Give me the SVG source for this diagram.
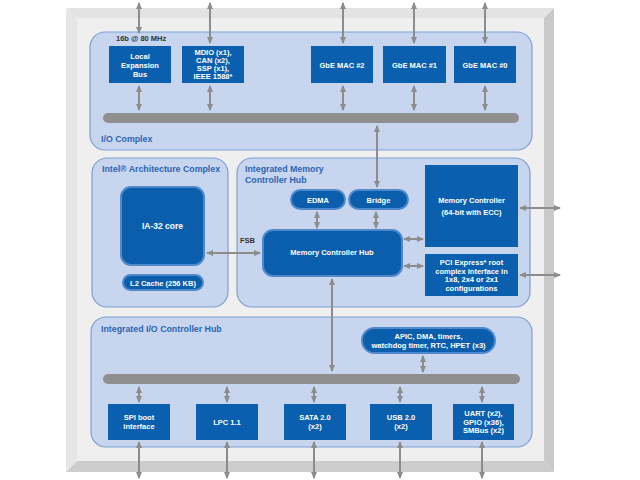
<svg xmlns="http://www.w3.org/2000/svg" width="640" height="480" viewBox="0 0 640 480">
<defs>
<marker id="ah" markerUnits="userSpaceOnUse" markerWidth="7" markerHeight="6" refX="6" refY="3" orient="auto-start-reverse">
<path d="M0,0 L7,3 L0,6 Z" fill="#8c8c8c"/>
</marker>
<style>
.cx{fill:#c8d5ee;stroke:#7f9fd3;stroke-width:1.2}
.blk{fill:#0a60ae}
.rb{fill:#0a5eab;stroke:#4f89cb;stroke-width:2}
.bus{stroke:#8f8f8f;stroke-width:10;stroke-linecap:round}
.ar{stroke:#8c8c8c;stroke-width:2;fill:none;marker-start:url(#ah);marker-end:url(#ah)}
.t{font-family:"Liberation Sans",Arial,sans-serif;font-weight:bold;font-size:7.5px;fill:#ffffff;text-anchor:middle}
.h{font-family:"Liberation Sans",Arial,sans-serif;font-weight:bold;font-size:8.8px;fill:#2c66b2}
.k{font-family:"Liberation Sans",Arial,sans-serif;font-weight:bold;font-size:7.5px;fill:#333333}
</style>
</defs>
<rect width="640" height="480" fill="#ffffff"/>
<g id="frame">
<polygon points="66,8 554,8 544,18 77,18" fill="#e3e3e3"/>
<polygon points="66,8 77,18 77,461 66,472" fill="#e6e6e6"/>
<polygon points="554,8 554,472 544,461 544,18" fill="#c9c9c9"/>
<polygon points="66,472 554,472 544,461 77,461" fill="#cdcdcd"/>
<rect x="77" y="18" width="467" height="443" fill="#efefef"/>
</g>
<g id="io-complex">
<rect class="cx" x="90" y="32" width="442" height="118" rx="15"/>
<text class="h" x="101" y="142">I/O Complex</text>
<text class="k" x="116" y="41">16b @ 80 MHz</text>
<line class="bus" x1="108" y1="118" x2="514" y2="118"/>
</g>
<g id="local-bus"><rect class="blk" x="109" y="46" width="62" height="37"/>
<text class="t" x="140" y="59">Local</text><text class="t" x="140" y="68">Expansion</text><text class="t" x="140" y="77">Bus</text></g>
<g id="mdio"><rect class="blk" x="182" y="46" width="62" height="37"/>
<text class="t" x="213" y="55">MDIO (x1),</text><text class="t" x="213" y="63">CAN (x2),</text><text class="t" x="213" y="71">SSP (x1),</text><text class="t" x="213" y="79">IEEE 1588*</text></g>
<g id="gbe2"><rect class="blk" x="311" y="46" width="62" height="37"/><text class="t" x="342" y="67.5">GbE MAC #2</text></g>
<g id="gbe1"><rect class="blk" x="383" y="46" width="63" height="37"/><text class="t" x="414.5" y="67.5">GbE MAC #1</text></g>
<g id="gbe0"><rect class="blk" x="454" y="46" width="62" height="37"/><text class="t" x="485" y="67.5">GbE MAC #0</text></g>

<g id="ia-complex">
<rect class="cx" x="92" y="158" width="136" height="149" rx="15"/>
<text class="h" x="102" y="172">Intel® Architecture Complex</text>
</g>
<g id="ia32"><rect class="rb" x="121" y="187" width="83" height="78" rx="10"/><text class="t" x="162.5" y="229" style="font-size:8.5px">IA-32 core</text></g>
<g id="l2"><rect class="rb" x="123" y="275" width="80" height="15" rx="7.5"/><text class="t" x="163" y="285.5">L2 Cache (256 KB)</text></g>

<g id="imch">
<rect class="cx" x="237" y="158" width="293" height="149" rx="15"/>
<text class="h" x="245" y="172">Integrated Memory</text>
<text class="h" x="245" y="183">Controller Hub</text>
<text class="k" x="240" y="243">FSB</text>
</g>
<g id="edma"><rect class="rb" x="291" y="190" width="54" height="19" rx="9.5"/><text class="t" x="318" y="202.5">EDMA</text></g>
<g id="bridge"><rect class="rb" x="349" y="190" width="59" height="19" rx="9.5"/><text class="t" x="378.5" y="202.5">Bridge</text></g>
<g id="mch"><rect class="rb" x="263" y="230" width="139" height="46" rx="10"/><text class="t" x="332" y="255">Memory Controller Hub</text></g>
<g id="memctrl"><rect class="blk" x="425" y="165" width="93" height="82"/>
<text class="t" x="471.5" y="203">Memory Controller</text><text class="t" x="471.5" y="215">(64-bit with ECC)</text></g>
<g id="pcie"><rect class="blk" x="425" y="254" width="93" height="42"/>
<text class="t" x="471.5" y="265">PCI Express* root</text><text class="t" x="471.5" y="273.5">complex interface in</text>
<text class="t" x="471.5" y="282">1x8, 2x4 or 2x1</text><text class="t" x="471.5" y="290.5">configurations</text></g>

<g id="iich">
<rect class="cx" x="91" y="317" width="441" height="130" rx="15"/>
<text class="h" x="101" y="332">Integrated I/O Controller Hub</text>
<line class="bus" x1="108" y1="379" x2="515" y2="379"/>
</g>
<g id="apic"><rect class="rb" x="362" y="328" width="133" height="25" rx="12.5"/>
<text class="t" x="428.5" y="339">APIC, DMA, timers,</text><text class="t" x="428.5" y="348">watchdog timer, RTC, HPET (x3)</text></g>
<g id="spi"><rect class="blk" x="108" y="404" width="62" height="36"/><text class="t" x="139" y="420">SPI boot</text><text class="t" x="139" y="429">interface</text></g>
<g id="lpc"><rect class="blk" x="196" y="404" width="62" height="36"/><text class="t" x="227" y="425">LPC 1.1</text></g>
<g id="sata"><rect class="blk" x="284" y="404" width="62" height="36"/><text class="t" x="315" y="420">SATA 2.0</text><text class="t" x="315" y="429">(x2)</text></g>
<g id="usb"><rect class="blk" x="370" y="404" width="62" height="36"/><text class="t" x="401" y="420">USB 2.0</text><text class="t" x="401" y="429">(x2)</text></g>
<g id="uart"><rect class="blk" x="453" y="404" width="61" height="36"/><text class="t" x="483.5" y="416">UART (x2),</text><text class="t" x="483.5" y="424.5">GPIO (x36),</text><text class="t" x="483.5" y="433">SMBus (x2)</text></g>

<g id="connectors">
<line class="ar" x1="139" y1="3" x2="139" y2="33"/>
<line class="ar" x1="210" y1="3" x2="210" y2="43"/>
<line class="ar" x1="343" y1="3" x2="343" y2="43"/>
<line class="ar" x1="414" y1="3" x2="414" y2="43"/>
<line class="ar" x1="485" y1="3" x2="485" y2="43"/>
<line class="ar" x1="139" y1="86" x2="139" y2="110"/>
<line class="ar" x1="210" y1="86" x2="210" y2="110"/>
<line class="ar" x1="343" y1="86" x2="343" y2="110"/>
<line class="ar" x1="414" y1="86" x2="414" y2="110"/>
<line class="ar" x1="485" y1="86" x2="485" y2="110"/>
<line class="ar" x1="377" y1="126" x2="377" y2="187"/>
<line class="ar" x1="317" y1="212" x2="317" y2="228"/>
<line class="ar" x1="376" y1="212" x2="376" y2="228"/>
<line class="ar" x1="207" y1="253" x2="260" y2="253"/>
<line class="ar" x1="404" y1="239" x2="423" y2="239"/>
<line class="ar" x1="404" y1="266" x2="423" y2="266"/>
<line class="ar" x1="520" y1="208" x2="560" y2="208"/>
<line class="ar" x1="520" y1="275" x2="560" y2="275"/>
<line class="ar" x1="332" y1="279" x2="332" y2="371"/>
<line class="ar" x1="423" y1="356" x2="423" y2="372"/>
<line class="ar" x1="139" y1="387" x2="139" y2="402"/>
<line class="ar" x1="227" y1="387" x2="227" y2="402"/>
<line class="ar" x1="314" y1="387" x2="314" y2="402"/>
<line class="ar" x1="400" y1="387" x2="400" y2="402"/>
<line class="ar" x1="482" y1="387" x2="482" y2="402"/>
<line class="ar" x1="139" y1="442" x2="139" y2="478"/>
<line class="ar" x1="227" y1="442" x2="227" y2="478"/>
<line class="ar" x1="314" y1="442" x2="314" y2="478"/>
<line class="ar" x1="400" y1="442" x2="400" y2="478"/>
<line class="ar" x1="482" y1="442" x2="482" y2="478"/>
</g>
</svg>
